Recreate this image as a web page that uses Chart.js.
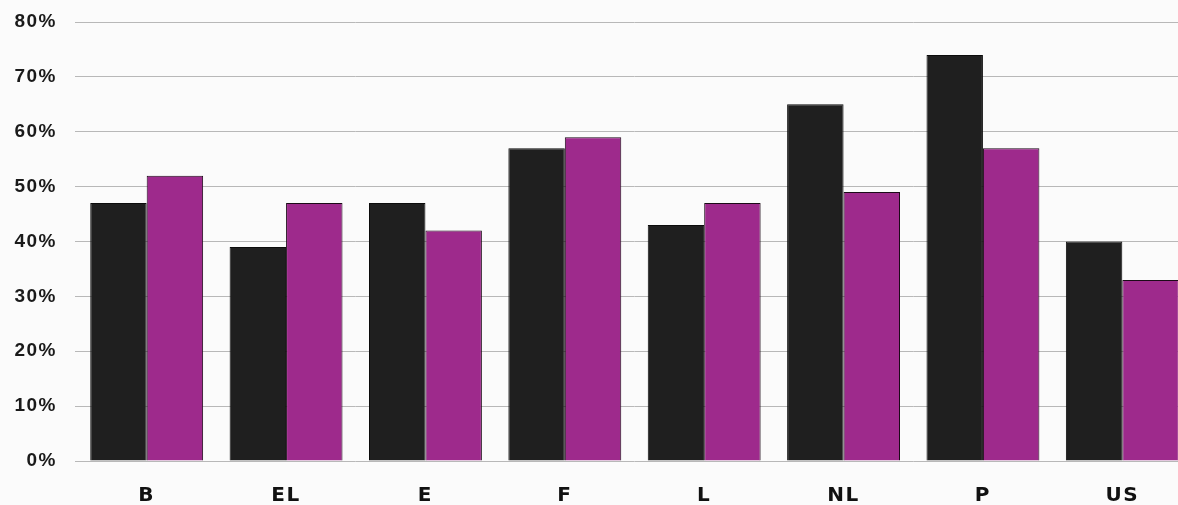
<!DOCTYPE html>
<html>
<head>
<meta charset="utf-8">
<script src="https://cdn.jsdelivr.net/npm/chart.js@4"></script>
<style>
  html, body { margin: 0; padding: 0; background: #fbfbfb; overflow: hidden; }
  #wrap { width: 1192px; height: 505px; }
</style>
</head>
<body>
<div id="wrap"><canvas id="barChart" width="1192" height="505"></canvas></div>
<script>
const categories = ["B", "EL", "E", "F", "L", "NL", "P", "US"];
const seriesBlack = [47, 39, 47, 57, 43, 65, 74, 40];
const seriesMagenta = [52, 47, 42, 59, 47, 49, 57, 33];
const yTicks = [0, 10, 20, 30, 40, 50, 60, 70, 80];

// spread the glyphs a little, like the printed original
const spacing = {
  id: "spacing",
  beforeDraw(chart) {
    chart.ctx.letterSpacing = "1.5px";
  },
};

const ctx = document.getElementById("barChart").getContext("2d");
new Chart(ctx, {
  type: "bar",
  data: {
    labels: categories,
    datasets: [
      {
        label: "black",
        data: seriesBlack,
        backgroundColor: "#1f1f1f",
        borderColor: "#0c0c0c",
        borderWidth: 1,
        categoryPercentage: 0.81,
        barPercentage: 1.0,
      },
      {
        label: "magenta",
        data: seriesMagenta,
        backgroundColor: "#9e2a8c",
        borderColor: "#1c0a18",
        borderWidth: 1,
        categoryPercentage: 0.81,
        barPercentage: 1.0,
      },
    ],
  },
  options: {
    responsive: false,
    animation: false,
    layout: { padding: { top: 22, right: 0, left: 0, bottom: 0 } },
    scales: {
      y: {
        min: 0,
        max: 80,
        afterBuildTicks: (scale) => {
          scale.ticks = yTicks.map((v) => ({ value: v }));
        },
        afterFit: (scale) => {
          scale.width = 77;
          scale.paddingTop = 0;
          scale.paddingBottom = 0;
        },
        grid: {
          color: "#b8b8b8",
          lineWidth: 1,
          tickLength: 2,
        },
        border: { display: false },
        ticks: {
          padding: 18,
          color: "#1a1a1a",
          font: { family: "Liberation Sans", weight: "bold", size: 19 },
          callback: (v) => v + "%",
        },
      },
      x: {
        afterFit: (scale) => {
          scale.height = 44;
        },
        grid: { display: false, drawTicks: false },
        border: { display: false },
        ticks: {
          padding: 23,
          color: "#111",
          font: { family: "DejaVu Sans", weight: "bold", size: 20 },
        },
      },
    },
    plugins: {
      legend: { display: false },
      tooltip: { enabled: false },
    },
  },
  plugins: [spacing],
});
</script>
</body>
</html>
